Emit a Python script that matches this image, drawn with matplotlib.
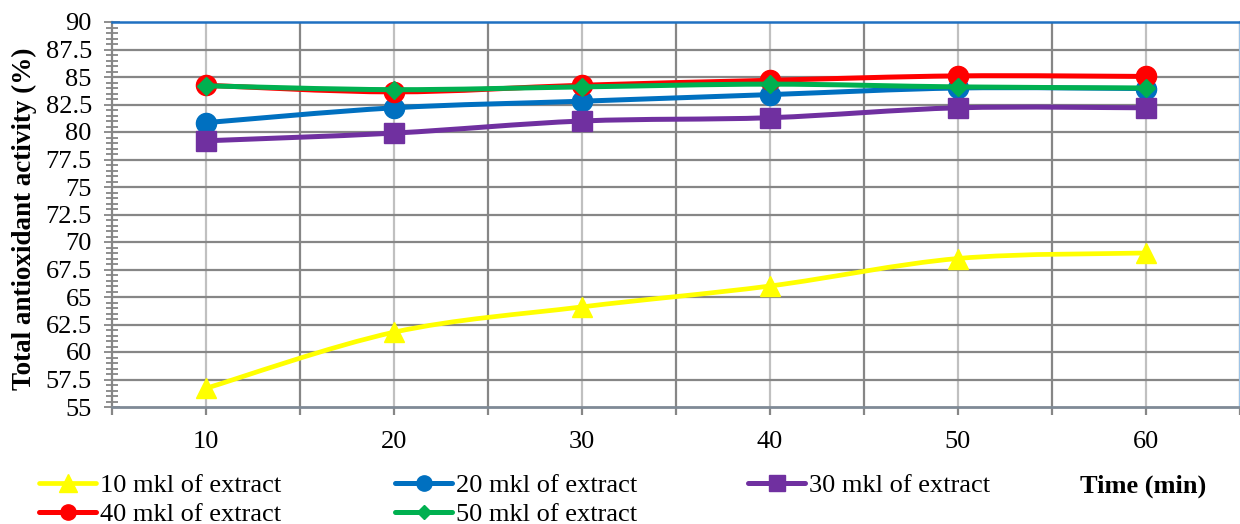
import matplotlib
matplotlib.use("Agg")
import matplotlib.pyplot as plt
from matplotlib.path import Path
from matplotlib.patches import PathPatch
from matplotlib.lines import Line2D
import numpy as np

plt.rcParams['font.family'] = ['Liberation Serif', 'DejaVu Serif']

times = [10, 20, 30, 40, 50, 60]
s10 = [56.7, 61.8, 64.1, 66.0, 68.5, 69.0]
s20 = [80.85, 82.2, 82.8, 83.4, 84.0, 83.95]
s30 = [79.2, 79.9, 81.0, 81.3, 82.2, 82.2]
s40 = [84.25, 83.65, 84.25, 84.7, 85.1, 85.05]
s50 = [84.2, 83.85, 84.1, 84.35, 84.1, 84.0]
labels = ["10 mkl of extract", "20 mkl of extract", "30 mkl of extract",
          "40 mkl of extract", "50 mkl of extract"]
yticks = [55, 57.5, 60, 62.5, 65, 67.5, 70, 72.5, 75, 77.5, 80, 82.5, 85, 87.5, 90]
ytick_labels = ["55", "57.5", "60", "62.5", "65", "67.5", "70", "72.5", "75",
                "77.5", "80", "82.5", "85", "87.5", "90"]

W, H = 1240, 524
fig = plt.figure(figsize=(W / 100, H / 100), dpi=100)
ax = fig.add_axes([112 / W, 1 - 407 / H, (1240 - 112) / W, (407 - 22) / H])
ax.set_xlim(5, 65)
ax.set_ylim(55, 90)

FS = 19


def smooth_path(xs, ys):
    pts = np.column_stack([xs, ys]).astype(float)
    n = len(pts)
    verts = [pts[0]]
    codes = [Path.MOVETO]
    for i in range(n - 1):
        p0 = pts[i - 1] if i > 0 else pts[i]
        p1 = pts[i]
        p2 = pts[i + 1]
        p3 = pts[i + 2] if i + 2 < n else pts[i + 1]
        c1 = p1 + (p2 - p0) / 6.0
        c2 = p2 - (p3 - p1) / 6.0
        verts += [c1, c2, p2]
        codes += [Path.CURVE4] * 3
    return Path(verts, codes)


# (values, colour, marker, plot size, legend size, line width)
series = [
    (s10, "#FFFF00", "^", 15, 12.5, 3.4),
    (s20, "#0070C0", "o", 14.5, 11, 3.6),
    (s30, "#7030A0", "s", 14.5, 11, 3.6),
    (s40, "#FF0000", "o", 14.5, 11, 3.6),
    (s50, "#00B050", "D", 9.5, 7.5, 3.6),
]
handles = []
for k, (vals, col, mk, ms, lms, lw) in enumerate(series):
    z = 3 + k
    patch = PathPatch(smooth_path(times, vals), facecolor="none", edgecolor=col,
                      lw=lw, zorder=z, capstyle="round", joinstyle="round")
    ax.add_patch(patch)
    ax.plot(times, vals, linestyle="none", marker=mk, ms=ms, color=col,
            markeredgecolor=col, zorder=z + 0.1, clip_on=False)
    handles.append(Line2D([], [], color=col, lw=lw, marker=mk, ms=lms,
                          markeredgecolor=col, solid_capstyle="round"))

# grid
for xv in [15, 25, 35, 45, 55, 65]:
    ax.axvline(xv, color="#868686", lw=1.6, zorder=1)
for xv in times:
    ax.axvline(xv, color="#C0C0C0", lw=1.6, zorder=1)
for yv in yticks[1:-1]:
    ax.axhline(yv, color="#868686", lw=1.6, zorder=1)

# y axis
ax.set_yticks(yticks)
ax.set_yticklabels(ytick_labels, fontsize=FS)
ax.set_yticks(np.arange(55, 90.01, 0.5), minor=True)
ax.tick_params(axis="y", which="major", direction="inout", length=11, width=1.3,
               color="#868686", pad=9)
ax.tick_params(axis="y", which="minor", direction="inout", length=8, width=1.3,
               color="#868686")

# x axis: labelled ticks at the category centres, plain ticks at boundaries
ax.set_xticks(times)
ax.set_xticklabels([str(t) for t in times], fontsize=FS)
ax.tick_params(axis="x", which="major", direction="out", length=6, width=1.6,
               color="#868686", pad=11)
ax.set_xticks([5, 15, 25, 35, 45, 55, 65], minor=True)
ax.tick_params(axis="x", which="minor", direction="out", length=6, width=1.6,
               color="#868686")

ax.spines["left"].set_color("#868686")
ax.spines["left"].set_linewidth(1.6)
ax.spines["bottom"].set_color("#7F8A96")
ax.spines["bottom"].set_linewidth(2.0)
ax.spines["top"].set_color("#1F70C1")
ax.spines["top"].set_linewidth(1.8)
ax.spines["right"].set_color("#9DC3E6")
ax.spines["right"].set_linewidth(1.5)

ax.set_ylabel("Total antioxidant activity (%)", fontsize=19.5, fontweight="bold")
ax.yaxis.set_label_coords(-0.0665, 0.49)

# legend in three column groups
cols = [([0, 3], 39), ([1, 4], 395), ([2], 748)]
for idxs, xpx in cols:
    leg = fig.legend([handles[i] for i in idxs], [labels[i] for i in idxs],
                     loc="upper left", bbox_to_anchor=(xpx / W, 1 - 474 / H),
                     frameon=False, fontsize=FS, handlelength=2.16,
                     handletextpad=0.15, borderpad=0, borderaxespad=0,
                     labelspacing=0.2)
fig.text(1080 / W, 1 - 486 / H, "Time (min)", fontsize=FS, fontweight="bold",
         va="center", ha="left")

fig.savefig("out.png", dpi=100)
